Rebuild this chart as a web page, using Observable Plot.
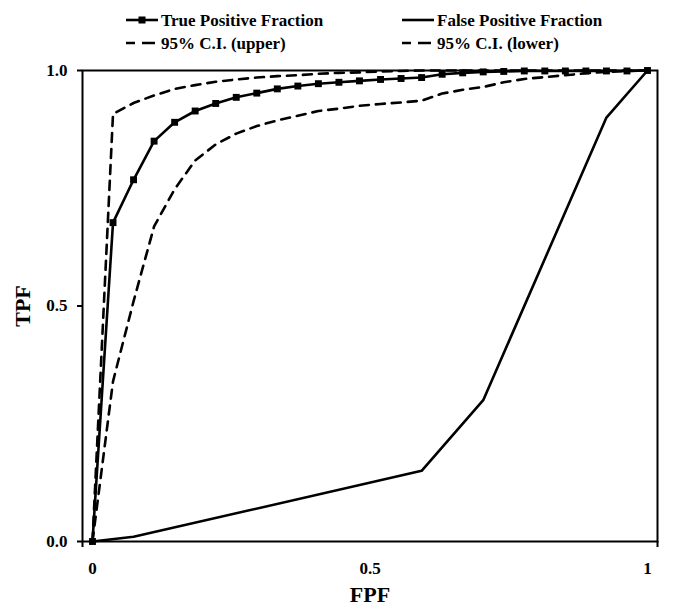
<!DOCTYPE html>
<html><head><meta charset="utf-8">
<script src="https://cdn.jsdelivr.net/npm/d3@7"></script>
<script src="https://cdn.jsdelivr.net/npm/@observablehq/plot@0.6"></script>
<style>body{margin:0;background:#fff} #chart{width:685px;height:612px}</style>
</head><body><div id="chart"></div>
<script>
// x positions of the operating points (FPF)
const fpfGrid = [0, 0.037, 0.074, 0.111, 0.148, 0.185, 0.222, 0.259, 0.296, 0.333, 0.370, 0.407, 0.444, 0.481,
  0.519, 0.556, 0.593, 0.630, 0.667, 0.704, 0.741, 0.778, 0.815, 0.852, 0.889, 0.926, 0.963, 1.0];
const tpf = [0, 0.677, 0.768, 0.850, 0.890, 0.914, 0.930, 0.943, 0.952, 0.961, 0.967, 0.972, 0.975, 0.978,
  0.981, 0.983, 0.985, 0.992, 0.995, 0.997, 0.998, 0.999, 0.999, 0.999, 0.999, 0.999, 0.999, 1.0];
const ciUpper = [0, 0.908, 0.931, 0.947, 0.961, 0.969, 0.976, 0.981, 0.985, 0.988, 0.990, 0.993, 0.995, 0.996,
  0.998, 0.999, 1.0, 1.0, 1.0, 1.0, 1.0, 1.0, 1.0, 1.0, 1.0, 1.0, 1.0, 1.0];
const ciLower = [0, 0.340, 0.510, 0.669, 0.748, 0.809, 0.843, 0.866, 0.882, 0.894, 0.904, 0.914, 0.919, 0.925,
  0.929, 0.932, 0.936, 0.951, 0.959, 0.965, 0.975, 0.982, 0.986, 0.990, 0.994, 0.997, 0.999, 1.0];
const fpfLineX = [0, 0.074, 0.593, 0.704, 0.926, 1.0];
const fpfLineY = [0, 0.010, 0.150, 0.300, 0.900, 1.0];

const xTicks = [0, 0.5, 1];
const xTickLabels = ["0", "0.5", "1"];
const yTicks = [0, 0.5, 1];
const yTickLabels = ["0.0", "0.5", "1.0"];
const xAxisEnds = [-0.018, 1.018];
const seriesNames = ["True Positive Fraction", "False Positive Fraction", "95% C.I. (upper)", "95% C.I. (lower)"];

const font = '"Liberation Serif", "Times New Roman", serif';
const tpfData = fpfGrid.map((x, i) => ({x, y: tpf[i]}));
const upData = fpfGrid.map((x, i) => ({x, y: ciUpper[i]}));
const loData = fpfGrid.map((x, i) => ({x, y: ciLower[i]}));
const fpfData = fpfLineX.map((x, i) => ({x, y: fpfLineY[i]}));
const dash = "9,7";

const plot = Plot.plot({
  width: 685, height: 612,
  marginTop: 70, marginBottom: 71, marginLeft: 82, marginRight: 28,
  style: {fontFamily: font, fontWeight: "bold", fontSize: "17px", color: "#000", background: "#fff"},
  x: {domain: xAxisEnds},
  y: {domain: [0, 1]},
  marks: [
    Plot.axisY(yTicks, {tickSize: 5, tickPadding: 10, strokeWidth: 2, fontSize: 17,
      tickFormat: d => yTickLabels[yTicks.indexOf(d)], label: null}),
    Plot.axisY([], {label: "TPF", labelArrow: false, labelAnchor: "center", labelOffset: 68, fontSize: 22, tickSize: 0}),
    Plot.axisX(xTicks, {tickSize: 0, tickPadding: 20, fontSize: 17,
      tickFormat: d => xTickLabels[xTicks.indexOf(d)], label: null}),
    Plot.axisX(xAxisEnds, {tickSize: 6, strokeWidth: 2, tickFormat: () => "", label: "FPF", labelArrow: false,
      labelAnchor: "center", labelOffset: 60, fontSize: 22}),
    Plot.frame({stroke: "#000", strokeWidth: 2}),
    Plot.line(fpfData, {x: "x", y: "y", stroke: "#000", strokeWidth: 2.6}),
    Plot.line(upData, {x: "x", y: "y", stroke: "#000", strokeWidth: 2.6, strokeDasharray: dash}),
    Plot.line(loData, {x: "x", y: "y", stroke: "#000", strokeWidth: 2.6, strokeDasharray: dash}),
    Plot.line(tpfData, {x: "x", y: "y", stroke: "#000", strokeWidth: 2.6}),
    Plot.dot(tpfData, {x: "x", y: "y", symbol: "square", r: 3.9, fill: "#000", stroke: "none"})
  ]
});
document.getElementById("chart").appendChild(plot);

// legend (two rows x two columns) above the plot frame
const svg = d3.select(plot);
const legendItems = [
  {name: seriesNames[0], col: 0, row: 0, dashed: false, marker: true},
  {name: seriesNames[1], col: 1, row: 0, dashed: false, marker: false},
  {name: seriesNames[2], col: 0, row: 1, dashed: true, marker: false},
  {name: seriesNames[3], col: 1, row: 1, dashed: true, marker: false}
];
const colX = [126, 402], rowY = [20, 43];
const lg = svg.append("g").attr("font-family", font).attr("font-weight", "bold").attr("font-size", 17)
  .attr("text-anchor", "start");
for (const it of legendItems) {
  const x0 = colX[it.col], y0 = rowY[it.row];
  lg.append("line").attr("x1", x0).attr("x2", x0 + (it.dashed ? 29 : 32)).attr("y1", y0).attr("y2", y0)
    .attr("stroke", "#000").attr("stroke-width", 2.6)
    .attr("stroke-dasharray", it.dashed ? "9,7,13,100" : null);
  if (it.marker) lg.append("rect").attr("x", x0 + 16 - 3.5).attr("y", y0 - 3.5).attr("width", 7).attr("height", 7).attr("fill", "#000");
  lg.append("text").attr("x", x0 + 35).attr("y", y0).attr("dy", "0.35em").attr("text-anchor", "start")
    .attr("fill", "#000").text(it.name);
}
</script>
</body></html>
